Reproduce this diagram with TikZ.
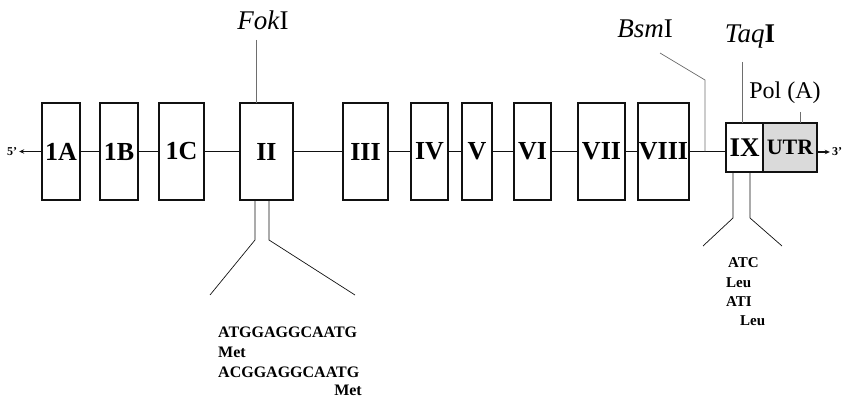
\documentclass[tikz,border=0pt]{standalone}
\usepackage{fontspec}
\setmainfont{Liberation Serif}
\usepackage{tikz}
\usetikzlibrary{arrows.meta, positioning}
\definecolor{Ink}{HTML}{111111}
\definecolor{SiteGray}{HTML}{6E6E6E}
\definecolor{UtrFill}{HTML}{DADADA}

\begin{document}
\begin{tikzpicture}[
      x=1pt, y=-1pt,
      exon/.style={draw=Ink, fill=white, line width=1.2pt, minimum height=97pt,
                   inner sep=0pt, outer sep=0pt, font=\fontsize{26}{26}\selectfont\bfseries},
      tailbox/.style={draw=Ink, fill=white, line width=1.2pt, minimum height=49pt,
                      inner sep=0pt, outer sep=0pt, font=\fontsize{27}{27}\selectfont\bfseries},
      backbone/.style={line width=1.4pt, Ink},
      endarrow/.style={backbone, -{Stealth[length=5pt, width=4.5pt]}},
      site/.style={line width=0.7pt, SiteGray},
      fan/.style={line width=0.7pt, Ink},
      sitelabel/.style={font=\fontsize{27}{27}\selectfont, inner sep=1pt},
      seq/.style={font=\fontsize{16}{16}\selectfont\bfseries, inner sep=0pt, anchor=west},
      codon/.style={seq, font=\fontsize{15}{15}\selectfont\bfseries},
      endlabel/.style={font=\fontsize{12}{12}\selectfont\bfseries, inner sep=2pt}
    ]
  \useasboundingbox (0,0) rectangle (844,398);

  \node[exon, minimum width=38pt] at (61,151.5) (e1A) {1A};
  \node[exon, minimum width=38pt, right=20pt of e1A]   (e1B)   {1B};
  \node[exon, minimum width=45pt, right=21pt of e1B]   (e1C)   {1C};
  \node[exon, minimum width=53pt, right=36pt of e1C]   (eII)   {II};
  \node[exon, minimum width=45pt, right=50pt of eII]   (eIII)  {III};
  \node[exon, minimum width=37pt, right=23pt of eIII]  (eIV)   {IV};
  \node[exon, minimum width=30pt, right=14pt of eIV]   (eV)    {V};
  \node[exon, minimum width=37pt, right=22pt of eV]    (eVI)   {VI};
  \node[exon, minimum width=47pt, right=27pt of eVI]   (eVII)  {VII};
  \node[exon, minimum width=51pt, right=13pt of eVII]  (eVIII) {VIII};
  \node[tailbox, minimum width=37pt, right=37pt of eVIII, yshift=4pt] (eIX) {IX};
  \node[tailbox, minimum width=54pt, fill=UtrFill, right=0pt of eIX,
        font=\fontsize{22}{22}\selectfont\bfseries] (utr) {UTR};

  \node[endlabel] at (12,151.5) (five)  {5'};
  \node[endlabel] at (837,152)  (three) {3'};

  \draw[endarrow] (e1A) -- (five);
  \foreach \a/\b in {e1A/e1B, e1B/e1C, e1C/eII, eII/eIII, eIII/eIV, eIV/eV, eV/eVI, eVI/eVII, eVII/eVIII}
    \draw[backbone] (\a) -- (\b);
  \draw[backbone] (eVIII) -- (eVIII -| eIX.west);
  \draw[endarrow] (three -| utr.east) -- (three);

  \node[sitelabel] at (263,20) (fok) {\itshape Fok\/\upshape I};
  \coordinate (fokcut) at (256,40);
  \draw[site] (fokcut) -- (fokcut |- eII.north);

  \node[sitelabel] at (645,29) (bsm) {\itshape Bsm\/\upshape I};
  \coordinate (bsmcut) at (660,53);
  \coordinate (bsmbend) at (705,80);
  \draw[site] (bsmcut) -- (bsmbend) -- (bsmbend |- eVIII);

  \node[sitelabel] at (750,37) (taq) {\itshape Taq\/\upshape\bfseries I};
  \coordinate (taqcut) at (742,62);
  \draw[site] (taqcut) -- (taqcut |- eIX.north);

  \node[sitelabel, font=\fontsize{24}{24}\selectfont] at (785,93) (pola) {Pol (A)};
  \coordinate (polcut) at (800,112);
  \draw[site] (polcut) -- (polcut |- utr.north);

  \coordinate (fokL) at (255,240);
  \coordinate (fokR) at (269,240);
  \coordinate (fokLend) at (210,295);
  \coordinate (fokRend) at (355,295);
  \draw[fan] (fokL |- eII.south) -- (fokL) -- (fokLend);
  \draw[fan] (fokR |- eII.south) -- (fokR) -- (fokRend);

  \coordinate (taqL) at (733,218);
  \coordinate (taqR) at (750,218);
  \coordinate (taqLend) at (703,246);
  \coordinate (taqRend) at (782,246);
  \draw[fan] (taqL |- eIX.south) -- (taqL) -- (taqLend);
  \draw[fan] (taqR |- eIX.south) -- (taqR) -- (taqRend);

  \node[seq] at (218,332) (seqA) {ATGGAGGCAATG};
  \node[seq] at (218,352) (metA) {Met};
  \node[seq] at (218,372) (seqC) {ACGGAGGCAATG};
  \node[seq, anchor=east] at (362,390) (metC) {Met};

  \node[codon] at (728,263) (atc)  {ATC};
  \node[codon] at (726,283) (leuA) {Leu};
  \node[codon] at (726,302) (ati)  {ATI};
  \node[codon] at (740,321) (leuB) {Leu};

\end{tikzpicture}
\end{document}
